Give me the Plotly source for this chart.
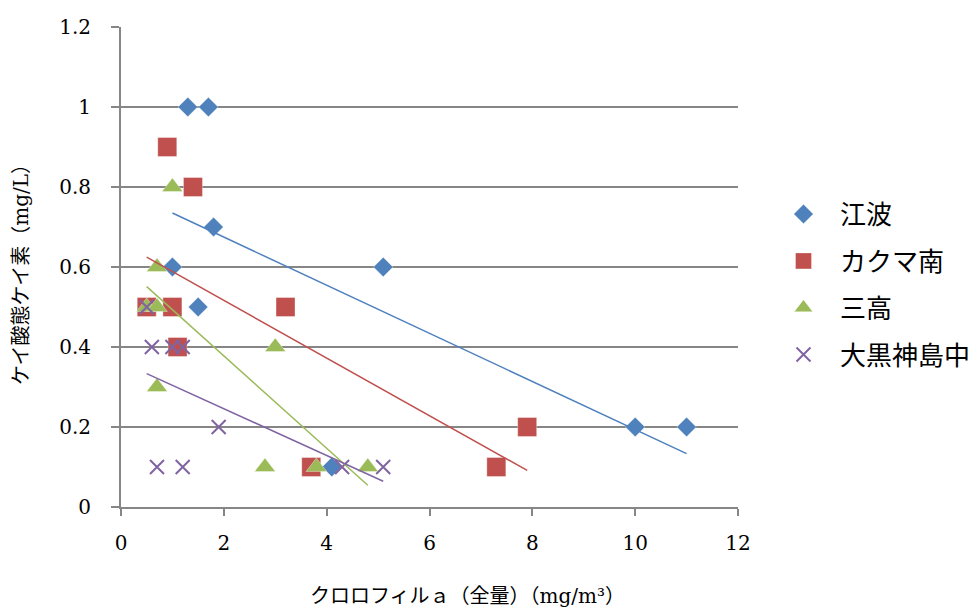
import numpy as np
import plotly.graph_objects as go

# Chlorophyll a (total, mg/m3) vs silicate silicon (mg/L) at four stations
station_names = ["江波", "カクマ南", "三高", "大黒神島中"]

enami_x = [1.3, 1.7, 1.8, 1.0, 1.5, 5.1, 10.0, 11.0, 4.1]
enami_y = [1.0, 1.0, 0.7, 0.6, 0.5, 0.6, 0.2, 0.2, 0.1]

kakuma_x = [0.9, 1.4, 0.5, 1.0, 1.1, 3.2, 3.7, 7.3, 7.9]
kakuma_y = [0.9, 0.8, 0.5, 0.5, 0.4, 0.5, 0.1, 0.1, 0.2]

mitaka_x = [1.0, 0.7, 0.5, 0.7, 0.7, 3.0, 2.8, 3.8, 4.8]
mitaka_y = [0.8, 0.6, 0.5, 0.5, 0.3, 0.4, 0.1, 0.1, 0.1]

okuro_x = [0.5, 0.6, 1.0, 1.2, 1.9, 0.7, 1.2, 4.3, 5.1]
okuro_y = [0.5, 0.4, 0.4, 0.4, 0.2, 0.1, 0.1, 0.1, 0.1]

x_ticks = [0, 2, 4, 6, 8, 10, 12]
y_ticks = [0, 0.2, 0.4, 0.6, 0.8, 1.0, 1.2]

series = [
    (enami_x, enami_y, "#4F81BD", "diamond", 15),
    (kakuma_x, kakuma_y, "#C0504D", "square", 19),
    (mitaka_x, mitaka_y, "#9BBB59", "triangle-up", 18),
    (okuro_x, okuro_y, "#8064A2", "x-thin-open", 14),
]

fig = go.Figure()

for name, (xs, ys, color, symbol, size) in zip(station_names, series):
    marker = dict(symbol=symbol, size=size, color=color)
    if symbol == "x-thin-open":
        marker["line"] = dict(color=color, width=2)
    else:
        marker["line"] = dict(color="rgba(255,255,255,0.35)", width=1)
    fig.add_trace(go.Scatter(
        x=xs, y=ys, mode="markers", name=name, marker=marker,
        legendgroup=name,
    ))

# Linear trend lines (least squares) spanning each station's x range
for name, (xs, ys, color, symbol, size) in zip(station_names, series):
    slope, intercept = np.polyfit(xs, ys, 1)
    x_line = np.array([min(xs), max(xs)])
    fig.add_trace(go.Scatter(
        x=x_line, y=slope * x_line + intercept, mode="lines",
        line=dict(color=color, width=1.5), showlegend=False,
        legendgroup=name, hoverinfo="skip",
    ))

tick_font = dict(family="DejaVu Serif", size=20, color="#000000")
title_font = dict(family="DejaVu Serif, Noto Sans CJK JP", size=20, color="#000000")

fig.update_layout(
    width=976, height=611,
    margin=dict(l=121, r=238, t=27, b=104, autoexpand=False),
    paper_bgcolor="white", plot_bgcolor="white",
    showlegend=True,
    legend=dict(
        x=1.047, xanchor="left", y=0.659, yanchor="top",
        font=dict(family="Noto Sans CJK JP", size=26, color="#000000"),
        traceorder="grouped", tracegroupgap=10,
        itemwidth=63,
        bgcolor="rgba(0,0,0,0)",
    ),
    xaxis=dict(
        range=[0, 12], tickvals=x_ticks, ticktext=[str(v) for v in x_ticks],
        showgrid=False, zeroline=False,
        showline=True, linecolor="#868686", linewidth=2,
        ticks="outside", ticklen=7, tickwidth=2, tickcolor="#868686",
        tickfont=tick_font, ticklabelstandoff=10,
    ),
    yaxis=dict(
        range=[0, 1.2], tickvals=y_ticks,
        ticktext=["0", "0.2", "0.4", "0.6", "0.8", "1", "1.2"],
        showgrid=True, gridcolor="#868686", gridwidth=2, zeroline=False,
        showline=True, linecolor="#868686", linewidth=2,
        ticks="outside", ticklen=8, tickwidth=2, tickcolor="#868686",
        tickfont=tick_font, ticklabelstandoff=16,
    ),
    annotations=[
        dict(
            text="クロロフィルａ（全量）（mg/m³）",
            xref="paper", yref="paper", x=(467 - 121) / 617, y=-0.186,
            xanchor="center", yanchor="middle", showarrow=False,
            font=title_font,
        ),
        dict(
            text="ケイ酸態ケイ素（mg/L）",
            xref="paper", yref="paper", x=(21 - 121) / 617, y=(507 - 270) / 480,
            xanchor="center", yanchor="middle", showarrow=False,
            textangle=-90, font=title_font,
        ),
    ],
)

fig.write_html("out.html")
